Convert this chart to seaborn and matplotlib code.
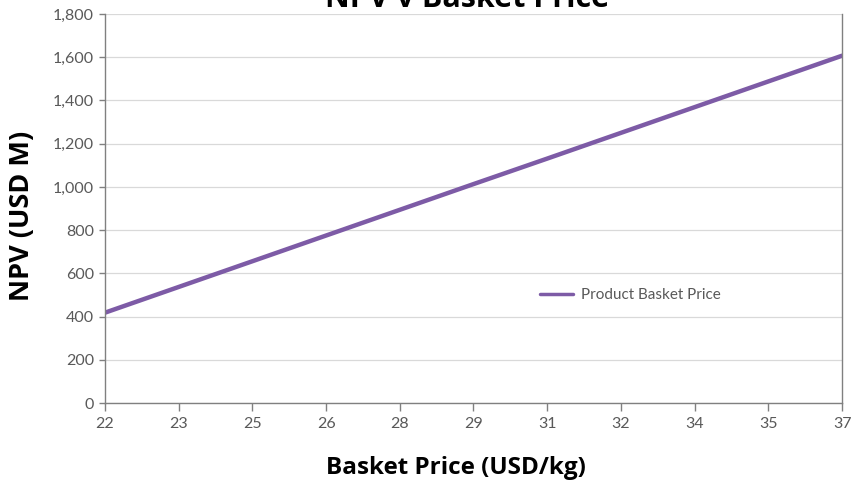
import matplotlib
matplotlib.use("Agg")
import matplotlib.pyplot as plt
import seaborn as sns
import pandas as pd
from matplotlib.ticker import FuncFormatter

# Basket price scenarios (USD/kg) and resulting NPV (USD M)
price_labels = ["22", "23", "25", "26", "28", "29", "31", "32", "34", "35", "37"]
npv_values = [418, 537, 656, 775, 894, 1013, 1131, 1250, 1369, 1488, 1607]
series_name = "Product Basket Price"

df = pd.DataFrame({
    "pos": list(range(len(price_labels))),
    "npv": npv_values,
    "series": series_name,
})

sns.set_theme(style="white")
plt.rcParams["font.family"] = ["Lato", "DejaVu Sans"]

fig = plt.figure(figsize=(8.52, 4.83), dpi=100)
ax = fig.add_axes([0.1232, 0.1656, 0.8651, 0.8054])

sns.lineplot(data=df, x="pos", y="npv", hue="series", palette=["#7D5BA6"],
             linewidth=3.2, ax=ax, legend=True)

ax.set_xlim(0, len(price_labels) - 1)
ax.set_ylim(0, 1800)
ax.set_xticks(range(len(price_labels)))
ax.set_xticklabels(price_labels)
ax.set_yticks(range(0, 1801, 200))
ax.yaxis.set_major_formatter(FuncFormatter(lambda v, p: f"{int(v):,}"))

ax.grid(axis="y", color="#D9D9D9", linewidth=0.9)
ax.set_axisbelow(True)

for side in ["left", "bottom", "right"]:
    ax.spines[side].set_visible(True)
    ax.spines[side].set_color("#808080")
    ax.spines[side].set_linewidth(1.0)
ax.spines["top"].set_visible(False)

ax.tick_params(axis="x", direction="out", length=6, width=1, color="#808080",
               labelsize=11.5, labelcolor="#595959", pad=4, bottom=True)
ax.tick_params(axis="y", direction="out", length=4, width=1, color="#808080",
               labelsize=11.5, labelcolor="#595959", pad=4, left=True)

label_font = ["Open Sans", "DejaVu Sans"]
ax.set_xlabel("Basket Price (USD/kg)", fontsize=17.5, fontweight="bold",
              family=label_font, color="black")
ax.xaxis.set_label_coords(0.476, -0.167)
ax.xaxis.label.set_va("center")

ax.set_ylabel("NPV (USD M)", fontsize=19.5, fontweight="bold",
              family=label_font, color="black")
ax.yaxis.set_label_coords(-0.1126, 0.481)
ax.yaxis.label.set_va("center")

fig.text(0.548, 1 - 7 / 483, "NPV v Basket Price", ha="center", va="baseline",
         fontsize=22, fontweight="bold", family=label_font, color="black")

leg = ax.legend(loc="center left", bbox_to_anchor=(0.571, 0.278), frameon=False,
                fontsize=11, handlelength=2.2, handletextpad=0.5,
                labelcolor="#595959")
for line in leg.get_lines():
    line.set_linewidth(2.5)

fig.savefig("out.png", dpi=100)
